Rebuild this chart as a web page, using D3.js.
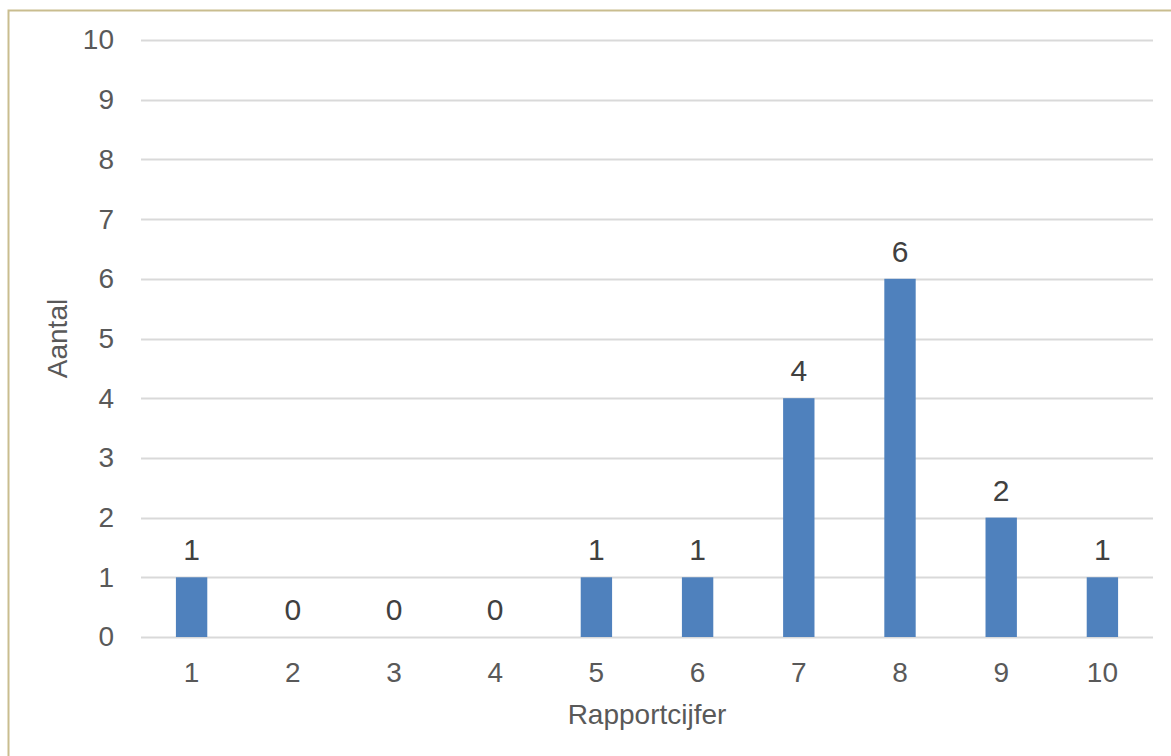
<!DOCTYPE html>
<html>
<head>
<meta charset="utf-8">
<script src="https://cdn.jsdelivr.net/npm/d3@7"></script>
<style>
  html, body { margin: 0; padding: 0; background: #fff; }
  svg { display: block; }
  text { font-family: "Liberation Sans", Arial, sans-serif; fill: #595959; }
</style>
</head>
<body>
<svg id="chart" width="1171" height="756"></svg>
<script>
// Grade distribution: number of respondents per report grade
const grades = ["1", "2", "3", "4", "5", "6", "7", "8", "9", "10"];
const counts = [1, 0, 0, 0, 1, 1, 4, 6, 2, 1];
const yTicks = [0, 1, 2, 3, 4, 5, 6, 7, 8, 9, 10];
const xTitle = "Rapportcijfer";
const yTitle = "Aantal";

const W = 1171, H = 756;
const margin = { left: 141, right: 1171 - 1153, top: 40, bottom: 756 - 637 };
const FONT = "'Liberation Sans', Arial, sans-serif";

const svg = d3.select("#chart");

// outer chart frame
svg.append("rect")
  .attr("x", 8.5).attr("y", 10.5)
  .attr("width", W + 20).attr("height", H + 20)
  .attr("fill", "#fff")
  .attr("stroke", "#c9bd8f").attr("stroke-width", 2);

const x = d3.scaleBand()
  .domain(grades)
  .range([margin.left, W - margin.right])
  .paddingInner(0.69)
  .paddingOuter(0.345);

const y = d3.scaleLinear()
  .domain([0, 10])
  .range([H - margin.bottom, margin.top]);

// horizontal gridlines
svg.append("g")
  .selectAll("line")
  .data(yTicks)
  .join("line")
  .attr("x1", margin.left).attr("x2", W - margin.right)
  .attr("y1", d => Math.round(y(d)) + 0.5).attr("y2", d => Math.round(y(d)) + 0.5)
  .attr("stroke", "#d9d9d9").attr("stroke-width", 2);

// y-axis labels
const yAxis = d3.axisLeft(y).tickValues(yTicks).tickSize(0).tickPadding(0);
svg.append("g")
  .attr("transform", `translate(${margin.left - 27},0)`)
  .call(yAxis)
  .call(g => g.select(".domain").remove())
  .call(g => g.selectAll("text")
    .style("font-family", FONT)
    .style("font-size", "28px").attr("fill", "#595959"));

// x-axis labels
const xAxis = d3.axisBottom(x).tickSize(0).tickPadding(0);
svg.append("g")
  .attr("transform", `translate(0,${H - margin.bottom + 25})`)
  .call(xAxis)
  .call(g => g.select(".domain").remove())
  .call(g => g.selectAll("text")
    .style("font-family", FONT)
    .style("font-size", "28px").attr("fill", "#595959"));

// bars
const rows = grades.map((g, i) => ({ g, v: counts[i] }));
svg.append("g")
  .selectAll("rect")
  .data(rows)
  .join("rect")
  .attr("x", d => x(d.g))
  .attr("y", d => y(d.v))
  .attr("width", x.bandwidth())
  .attr("height", d => y(0) - y(d.v))
  .attr("fill", "#4f81bd");

// value labels
svg.append("g")
  .selectAll("text")
  .data(rows)
  .join("text")
  .attr("x", d => x(d.g) + x.bandwidth() / 2)
  .attr("y", d => y(d.v) - 17)
  .attr("text-anchor", "middle")
  .style("font-size", "30px")
  .attr("fill", "#404040")
  .style("fill", "#404040")
  .text(d => d.v);

// axis titles
svg.append("text")
  .attr("x", (margin.left + W - margin.right) / 2)
  .attr("y", 724)
  .attr("text-anchor", "middle")
  .style("font-size", "28px")
  .text(xTitle);

svg.append("text")
  .attr("transform", `translate(67,${(margin.top + H - margin.bottom) / 2}) rotate(-90)`)
  .attr("text-anchor", "middle")
  .style("font-size", "28px")
  .text(yTitle);
</script>
</body>
</html>
